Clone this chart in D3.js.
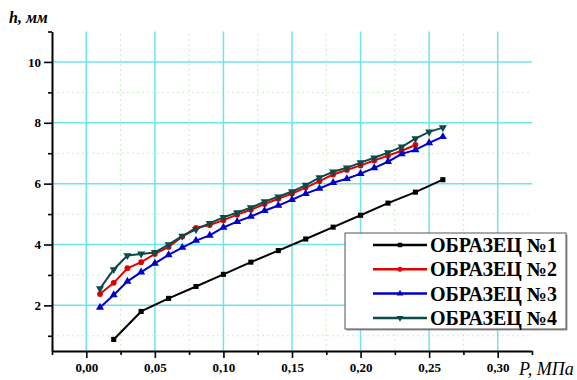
<!DOCTYPE html>
<html><head><meta charset="utf-8">
<script src="https://cdn.jsdelivr.net/npm/d3@7/dist/d3.min.js"></script>
<style>html,body{margin:0;padding:0;background:#fff;}svg{display:block;}</style>
</head><body>
<svg id="c" width="577" height="380"></svg>
<script>
const xTicks = [0.00, 0.05, 0.10, 0.15, 0.20, 0.25, 0.30];
const xTickLabels = ["0,00", "0,05", "0,10", "0,15", "0,20", "0,25", "0,30"];
const yTicks = [2, 4, 6, 8, 10];
const yTickLabels = ["2", "4", "6", "8", "10"];
const seriesNames = ["ОБРАЗЕЦ №1", "ОБРАЗЕЦ №2", "ОБРАЗЕЦ №3", "ОБРАЗЕЦ №4"];
const p1 = [0.02, 0.04, 0.06, 0.08, 0.10, 0.12, 0.14, 0.16, 0.18, 0.20, 0.22, 0.24, 0.26];
const h1 = [0.88, 1.8, 2.23, 2.62, 3.02, 3.42, 3.8, 4.18, 4.57, 4.96, 5.36, 5.72, 6.13];
const p2 = [0.01, 0.02, 0.03, 0.04, 0.05, 0.06, 0.07, 0.08, 0.09, 0.10, 0.11, 0.12, 0.13, 0.14, 0.15, 0.16, 0.17, 0.18, 0.19, 0.20, 0.21, 0.22, 0.23, 0.24];
const h2 = [2.37, 2.74, 3.22, 3.42, 3.69, 3.92, 4.26, 4.55, 4.64, 4.8, 4.98, 5.14, 5.33, 5.5, 5.67, 5.87, 6.08, 6.3, 6.45, 6.6, 6.76, 6.92, 7.08, 7.27];
const p3 = [0.01, 0.02, 0.03, 0.04, 0.05, 0.06, 0.07, 0.08, 0.09, 0.10, 0.11, 0.12, 0.13, 0.14, 0.15, 0.16, 0.17, 0.18, 0.19, 0.20, 0.21, 0.22, 0.23, 0.24, 0.25, 0.26];
const h3 = [1.93, 2.34, 2.79, 3.09, 3.38, 3.66, 3.9, 4.13, 4.3, 4.56, 4.75, 4.92, 5.11, 5.28, 5.47, 5.67, 5.84, 6.03, 6.16, 6.33, 6.52, 6.72, 6.98, 7.11, 7.34, 7.54];
const p4 = [0.01, 0.02, 0.03, 0.04, 0.05, 0.06, 0.07, 0.08, 0.09, 0.10, 0.11, 0.12, 0.13, 0.14, 0.15, 0.16, 0.17, 0.18, 0.19, 0.20, 0.21, 0.22, 0.23, 0.24, 0.25, 0.26];
const h4 = [2.55, 3.18, 3.64, 3.69, 3.74, 4.0, 4.28, 4.5, 4.7, 4.89, 5.05, 5.21, 5.41, 5.57, 5.74, 5.95, 6.2, 6.39, 6.52, 6.69, 6.85, 7.02, 7.21, 7.48, 7.7, 7.84];

const colors = ["#000000", "#e00000", "#0000c8", "#0a4a4a"];
const shapes = [d3.symbolSquare, d3.symbolCircle, d3.symbolTriangle, "down"];
const series = [[p1,h1],[p2,h2],[p3,h3],[p4,h4]].map((s,i)=>({name:seriesNames[i], pts:s[0].map((p,j)=>[p,s[1][j]])}));

const svg = d3.select("#c");
const serif = "'Liberation Serif','Times New Roman',serif";
const x = d3.scaleLinear().domain([-0.025, 0.325]).range([52, 532]);
const y = d3.scaleLinear().domain([0.5, 11]).range([351, 31.5]);

const minorXv = [0.025,0.075,0.125,0.175,0.225,0.275];
const minorY = [1,3,5,7,9];
const g = svg.append("g");
// minor grid
g.selectAll(".mgx").data(minorXv).enter().append("line")
  .attr("x1",d=>x(d)).attr("x2",d=>x(d)).attr("y1",y(0.5)).attr("y2",y(11))
  .attr("stroke","#c8f0c0").attr("stroke-width",1).attr("stroke-dasharray","2,3");
g.selectAll(".mgy").data(minorY).enter().append("line")
  .attr("x1",x(-0.025)).attr("x2",x(0.325)).attr("y1",d=>y(d)).attr("y2",d=>y(d))
  .attr("stroke","#c8f0c0").attr("stroke-width",1).attr("stroke-dasharray","2,3");
// major grid
g.selectAll(".gx").data(xTicks).enter().append("line")
  .attr("x1",d=>x(d)).attr("x2",d=>x(d)).attr("y1",y(0.5)).attr("y2",y(11))
  .attr("stroke","#70e4ec").attr("stroke-width",1.5);
g.selectAll(".gy").data(yTicks).enter().append("line")
  .attr("x1",x(-0.025)).attr("x2",x(0.325)).attr("y1",d=>y(d)).attr("y2",d=>y(d))
  .attr("stroke","#70e4ec").attr("stroke-width",1.5);

// axes
const xAxis = d3.axisBottom(x).tickValues(xTicks).tickFormat((d,i)=>xTickLabels[i]).tickSize(7).tickPadding(5).tickSizeOuter(0);
const gx = svg.append("g").attr("transform",`translate(0,${y(0.5)})`).call(xAxis);
const xMinorAxis = d3.axisBottom(x).tickValues([-0.025].concat(minorXv,[0.325])).tickFormat("").tickSize(4).tickSizeOuter(0);
const gxm = svg.append("g").attr("transform",`translate(0,${y(0.5)})`).call(xMinorAxis);
gxm.select(".domain").remove();
const yAxis = d3.axisLeft(y).tickValues(yTicks).tickFormat((d,i)=>yTickLabels[i]).tickSize(8).tickPadding(3).tickSizeOuter(0);
const gy = svg.append("g").attr("transform",`translate(${x(-0.025)},0)`).call(yAxis);
const yMinorAxis = d3.axisLeft(y).tickValues(minorY.concat([11])).tickFormat("").tickSize(4).tickSizeOuter(0);
const gym = svg.append("g").attr("transform",`translate(${x(-0.025)},0)`).call(yMinorAxis);
gym.select(".domain").remove();
[gx,gy,gxm,gym].forEach(a=>{
  a.selectAll(".domain").attr("stroke","#000").attr("stroke-width",2);
  a.selectAll(".tick line").attr("stroke","#000").attr("stroke-width",1.6);
  a.selectAll("text").attr("font-family",serif).attr("font-weight","bold").attr("font-size",13).attr("fill","#000");
});

// series
const line = d3.line().x(d=>x(d[0])).y(d=>y(d[1]));
function sym(i, size){
  if (shapes[i]==="down") return d3.symbol(d3.symbolTriangle, size)();
  return d3.symbol(shapes[i], size)();
}
const sizes = [26, 26, 28, 28];
series.forEach((s,i)=>{
  const sg = svg.append("g");
  sg.append("path").datum(s.pts).attr("d",line).attr("fill","none").attr("stroke",colors[i]).attr("stroke-width",2);
  sg.selectAll("path.m").data(s.pts).enter().append("path").attr("class","m")
    .attr("d",sym(i,sizes[i]))
    .attr("transform",d=>`translate(${x(d[0])},${y(d[1])})` + (shapes[i]==="down"?" rotate(180)":""))
    .attr("fill",colors[i]);
});

// axis titles
svg.append("text").attr("x",9).attr("y",23).attr("font-family",serif).attr("font-style","italic").attr("font-weight","bold").attr("font-size",16).text("h, мм");
svg.append("text").attr("x",519).attr("y",375).attr("font-family",serif).attr("font-style","italic").attr("font-size",18).text("P, МПа");

// legend
const lg = svg.append("g");
lg.append("rect").attr("x",346.5).attr("y",234.5).attr("width",221).attr("height",96).attr("fill","#9a9a9a");
lg.append("rect").attr("x",345).attr("y",233).attr("width",221).attr("height",96).attr("fill","#fff").attr("stroke","#555").attr("stroke-width",1);
series.forEach((s,i)=>{
  const yy = 245 + i*24.3;
  lg.append("line").attr("x1",373).attr("x2",427).attr("y1",yy).attr("y2",yy).attr("stroke",colors[i]).attr("stroke-width",2.5);
  lg.append("path").attr("d",sym(i,20)).attr("transform",`translate(400,${yy})`+(shapes[i]==="down"?" rotate(180)":"")).attr("fill",colors[i]);
  lg.append("text").attr("x",430).attr("y",yy+7).attr("font-family",serif).attr("font-weight","bold").attr("font-size",20).attr("fill","#000").text(s.name);
});
</script>
</body></html>
